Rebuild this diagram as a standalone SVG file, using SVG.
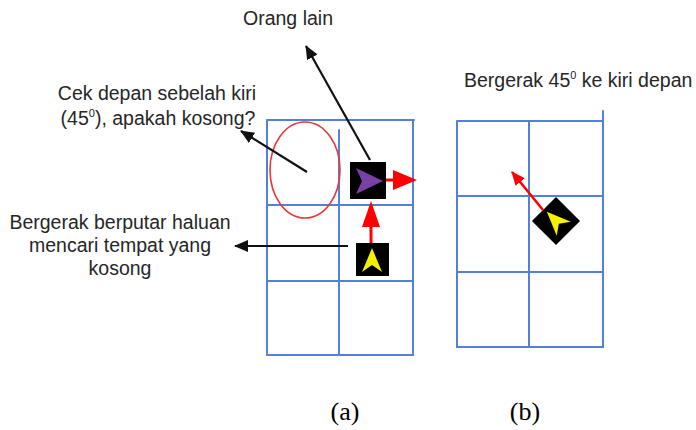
<svg xmlns="http://www.w3.org/2000/svg" width="696" height="430" viewBox="0 0 696 430">
<defs>
<style>
.t{font-family:"Liberation Sans",Arial,sans-serif;font-size:19.5px;fill:#262626}
.cap{font-family:"Liberation Serif","Times New Roman",serif;font-size:26px;fill:#000}
.g{stroke:#5580DA;stroke-width:2;fill:none;stroke-linecap:round}
.k{stroke:#111;stroke-width:2.2;fill:none}
</style>
<marker id="ah" viewBox="0 0 14 12" refX="13" refY="6" markerWidth="14" markerHeight="12" markerUnits="userSpaceOnUse" orient="auto">
<path d="M0,0L14,6L0,12Z" fill="#111"/>
</marker>
<marker id="rh" viewBox="0 0 14 12" refX="13" refY="6" markerWidth="14" markerHeight="12" markerUnits="userSpaceOnUse" orient="auto">
<path d="M0,0L14,6L0,12Z" fill="#F00"/>
</marker>
</defs>
<rect width="696" height="430" fill="#fff"/>

<g id="gridA">
<path class="g" d="M267,120H414M267,120V355H413V120M339,130V355M267,205H413M267,281H413"/>
</g>
<g id="gridB">
<path class="g" d="M457,121H603M603,111V347H457V121M529,121V347M457,196H603M457,272H603"/>
</g>

<g id="ellipse">
<ellipse cx="305" cy="170" rx="35" ry="48" fill="none" stroke="#E83838" stroke-width="1.6"/>
</g>

<g id="other">
<rect x="350" y="162" width="36" height="37" fill="#000"/>
<path d="M356,168L383,181L356,194L362,181Z" fill="#7B3FA8"/>
</g>
<g id="self">
<rect x="356" y="243" width="33" height="33" fill="#000"/>
<path d="M372,248L382,272L372,265L362,272Z" fill="#F5F000"/>
</g>
<g id="selfB">
<rect x="539" y="204" width="34" height="34" fill="#000" transform="rotate(45 556 221)"/>
<path d="M372,248L382,272L372,265L362,272Z" fill="#F5F000" transform="translate(556 221) rotate(-45) translate(-372 -261)"/>
</g>

<g id="connectors">
<line class="k" x1="370" y1="160" x2="306" y2="46" marker-end="url(#ah)"/>
<line class="k" x1="307" y1="172" x2="241" y2="131" marker-end="url(#ah)"/>
<line class="k" x1="348" y1="246" x2="235" y2="246" marker-end="url(#ah)"/>
<path d="M369.5,243V227H362L371,201L380,227H372.5V243Z" fill="#F00"/>
<path d="M386,178.5H393V170L417,180L393,190V181.5H386Z" fill="#F00"/>
<line x1="543" y1="210" x2="512" y2="172" stroke="#F00" stroke-width="2.5" marker-end="url(#rh)"/>
</g>

<g id="labels">
<text class="t" x="157" y="100" text-anchor="middle">Cek depan sebelah kiri</text>
<text class="t" x="288" y="25" text-anchor="middle">Orang lain</text>
<text class="t" x="158" y="125" text-anchor="middle">(45<tspan font-size="11" dy="-8">0</tspan><tspan dy="8">), apakah kosong?</tspan></text>
<text class="t" x="120" y="229" text-anchor="middle">Bergerak berputar haluan</text>
<text class="t" x="120" y="252" text-anchor="middle">mencari tempat yang</text>
<text class="t" x="120" y="275" text-anchor="middle">kosong</text>
<text class="t" x="464" y="87">Bergerak 45<tspan font-size="11" dy="-8">0</tspan><tspan dy="8"> ke kiri depan</tspan></text>
<text class="cap" x="345" y="420" text-anchor="middle">(a)</text>
<text class="cap" x="525" y="420" text-anchor="middle">(b)</text>
</g>
</svg>
